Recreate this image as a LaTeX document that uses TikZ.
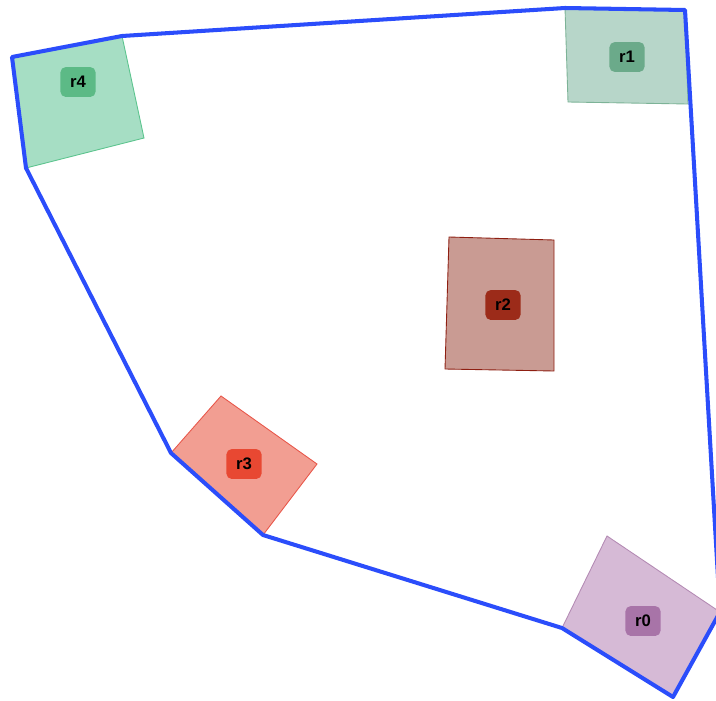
\documentclass[tikz,border=0pt]{standalone}
\usepackage{fontspec}
\setmainfont{Liberation Sans}
\usepackage{tikz}
\usetikzlibrary{calc}
% region colours: fill, edge, tag
\definecolor{r0fill}{HTML}{D6BAD6}
\definecolor{r0edge}{HTML}{B48BB4}
\definecolor{r0tag}{HTML}{A874A8}
\definecolor{r1fill}{HTML}{B7D6C9}
\definecolor{r1edge}{HTML}{7DB397}
\definecolor{r1tag}{HTML}{6BAA8A}
\definecolor{r2fill}{HTML}{C99B93}
\definecolor{r2edge}{HTML}{8E1F12}
\definecolor{r2tag}{HTML}{9C2B19}
\definecolor{r3fill}{HTML}{F29E92}
\definecolor{r3edge}{HTML}{E8574A}
\definecolor{r3tag}{HTML}{E84832}
\definecolor{r4fill}{HTML}{A6DEC4}
\definecolor{r4edge}{HTML}{5CC48E}
\definecolor{r4tag}{HTML}{5CBA86}
\definecolor{hullblue}{HTML}{2B4DFB}
\tikzset{region/.style={fill=#1fill, draw=#1edge, line width=0.5pt}}
\tikzset{tag/.style={fill=#1tag, rounded corners=3pt, minimum width=20pt,
    minimum height=17pt, inner sep=0pt, font=\fontsize{9.5}{11}\selectfont\bfseries}}
\tikzset{hull/.style={draw=hullblue, line width=2.3pt, line join=round}}

\begin{document}
\begin{tikzpicture}[x=0.02cm,y=-0.02cm]
  \useasboundingbox (0,0) rectangle (716,700);
  \clip (0,0) rectangle (716,700);
  % corners a,b,c,d of each region
  \coordinate (r0a) at (607,536); \coordinate (r0b) at (720,612);
  \coordinate (r0c) at (673,697); \coordinate (r0d) at (562,628);
  \coordinate (r1a) at (565,8);   \coordinate (r1b) at (685,10);
  \coordinate (r1c) at (688,104); \coordinate (r1d) at (568,102);
  \coordinate (r2a) at (449,237); \coordinate (r2b) at (554,240);
  \coordinate (r2c) at (554,371); \coordinate (r2d) at (445,369);
  \coordinate (r3a) at (221,396); \coordinate (r3b) at (317,464);
  \coordinate (r3c) at (263,535); \coordinate (r3d) at (171,453);
  \coordinate (r4a) at (12,57);   \coordinate (r4b) at (122,36);
  \coordinate (r4c) at (144,138); \coordinate (r4d) at (26,168);
  \foreach \r in {r0,r1,r2,r3,r4}
    \draw[region=\r] (\r a) -- (\r b) -- (\r c) -- (\r d) -- cycle;
  % convex hull
  \draw[hull] (r4a) -- (r4b) -- (r1a) -- (r1b) -- (r0b) -- (r0c) -- (r0d)
    -- (r3c) -- (r3d) -- (r4d) -- cycle;
  \foreach \r/\x/\y in {r0/643/621, r1/627/57, r2/503/305, r3/244/464, r4/78/82}
    \node[tag=\r] (\r tag) at (\x,\y) {\r};
\end{tikzpicture}
\end{document}
